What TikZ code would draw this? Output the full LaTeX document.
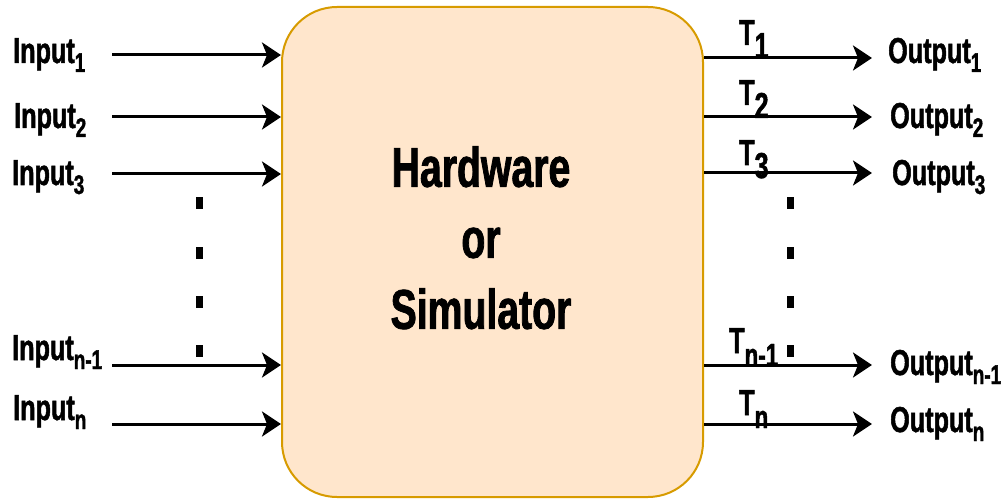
\documentclass[tikz,border=0pt]{standalone}
\usepackage{fontspec}
\setmainfont{Liberation Sans}[FakeStretch=0.7, BoldFeatures={FakeBold=1.4}]
\usetikzlibrary{arrows.meta}
\definecolor{boxfill}{HTML}{FFE6CC}
\definecolor{boxline}{HTML}{D79B00}
% subscripts for the port labels
\newcommand\lsub[1]{\raisebox{-9pt}{\fontsize{27}{27}\selectfont #1}}
\newcommand\tsub[2]{\raisebox{-13pt}{\fontsize{#1}{#1}\selectfont #2}}
\tikzset{
  port/.style={anchor=base west, inner sep=0pt, font=\fontsize{36}{36}\selectfont\bfseries},
  signal/.style={line width=3pt, -{Stealth[length=19pt, width=25pt, inset=5pt]}},
  dot/.style={fill=black, minimum width=7pt, minimum height=12pt, inner sep=0pt},
  block/.style={draw=boxline, fill=boxfill, line width=2pt, rounded corners=55pt,
    minimum width=421pt, minimum height=490pt, inner sep=0pt}
}
\begin{document}
\begin{tikzpicture}[x=1pt, y=-1pt]
\useasboundingbox (0,0) rectangle (1006,502);

% central block
\node[block] (box) at (492.5,252) {};
\node[anchor=north, inner sep=0pt, align=center,
      font=\fontsize{56}{71}\selectfont\bfseries] (title) at (481,146)
  {Hardware\\or\\Simulator};

% input side
\node[port] (in1) at (13,63)  {Input\lsub{1}};
\node[port] (in2) at (14,128) {Input\lsub{2}};
\node[port] (in3) at (12,185) {Input\lsub{3}};
\node[port] (in4) at (12,360) {Input\lsub{n-1}};
\node[port] (in5) at (13,420) {Input\lsub{n}};

\coordinate (a1) at (112,55);
\coordinate (a2) at (112,117);
\coordinate (a3) at (112,174);
\coordinate (a4) at (112,365);
\coordinate (a5) at (112,424);
\foreach \i in {1,...,5}
  \draw[signal] (a\i) -- (box.west |- a\i);

% output side
\coordinate (b1) at (872,58);
\coordinate (b2) at (872,117);
\coordinate (b3) at (872,173);
\coordinate (b4) at (872,365);
\coordinate (b5) at (872,424);
\foreach \i in {1,...,5}
  \draw[signal] (box.east |- b\i) -- (b\i);

\node[port] (t1) at (739,45)  {T\tsub{36}{1}};
\node[port] (t2) at (739,105) {T\tsub{36}{2}};
\node[port] (t3) at (739,165) {T\tsub{36}{3}};
\node[port] (t4) at (729,353) {T\tsub{32}{n-1}};
\node[port] (t5) at (739,415) {T\tsub{32}{n}};

\node[port] (out1) at (888,63)  {Output\lsub{1}};
\node[port] (out2) at (890,128) {Output\lsub{2}};
\node[port] (out3) at (892,185) {Output\lsub{3}};
\node[port] (out4) at (890,375) {Output\lsub{n-1}};
\node[port] (out5) at (890,432) {Output\lsub{n}};

% ellipsis marks between the ports
\foreach \y [count=\k] in {203,253,302,351} {
  \node[dot] (ld\k) at (199,\y) {};
  \node[dot] (rd\k) at (790,\y) {};
}
\end{tikzpicture}
\end{document}
